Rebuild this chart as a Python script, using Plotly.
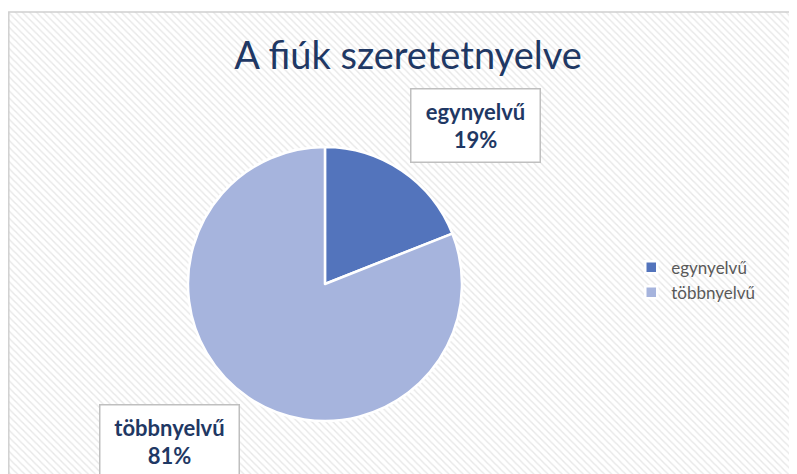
import plotly.graph_objects as go

# chart data
title = "A fiúk szeretetnyelve"
labels = ["egynyelvű", "többnyelvű"]
values = [19, 81]
colors = ["#5374BC", "#A6B4DD"]

# label box centres (paper coords) and widths
label_pos = [(0.586, 0.753), (0.203, 0.086)]
label_w = [118, 128]

fig = go.Figure()

# hatched chart-area background
fig.add_trace(go.Bar(
    x=[0], y=[1], width=1,
    marker=dict(
        color="white",
        line=dict(width=0),
        pattern=dict(shape="\\", fgcolor="#D0D0D0", bgcolor="white", size=5, solidity=0.28),
    ),
    showlegend=False, hoverinfo="skip",
))

fig.add_trace(go.Pie(
    labels=labels,
    values=values,
    sort=False,
    direction="clockwise",
    rotation=0,
    marker=dict(colors=colors, line=dict(color="white", width=2.5)),
    textinfo="none",
    domain=dict(x=[0.2258, 0.5696], y=[0.1287, 0.7068]),
))

total = sum(values)
annotations = []
for (ax, ay), w, lab, v in zip(label_pos, label_w, labels, values):
    pct = round(100 * v / total)
    annotations.append(dict(
        x=ax, y=ay, xref="paper", yref="paper",
        xanchor="center", yanchor="middle",
        text=f"<b>{lab}</b><br><b>{pct}%</b>",
        showarrow=False,
        width=w, height=62,
        font=dict(family="Lato", size=22, color="#1F3864"),
        bgcolor="white", bordercolor="#BFBFBF", borderwidth=1.5, borderpad=5,
        align="center",
    ))

fig.update_layout(
    width=797, height=474,
    margin=dict(l=0, r=0, t=0, b=0),
    paper_bgcolor="white",
    plot_bgcolor="white",
    title=dict(text=title, x=0.502, xanchor="center", y=0.900, yanchor="middle",
               font=dict(family="Lato", size=38, color="#1F3864")),
    xaxis=dict(domain=[0, 1], range=[-0.5, 0.5], visible=False, fixedrange=True),
    yaxis=dict(domain=[0, 1 - 4 / 474], range=[0, 1], visible=False, fixedrange=True),
    legend=dict(x=0.782, y=0.426, xanchor="left", yanchor="middle",
                font=dict(family="Lato", size=17, color="#595959"),
                bgcolor="rgba(0,0,0,0)"),
    annotations=annotations,
    shapes=[dict(type="rect", xref="paper", yref="paper", x0=0.001, x1=1.01,
                 y0=-0.01, y1=1 - 4 / 474, line=dict(color="#D0D0D0", width=1.5))],
    bargap=0,
)

fig.write_html("out.html")
